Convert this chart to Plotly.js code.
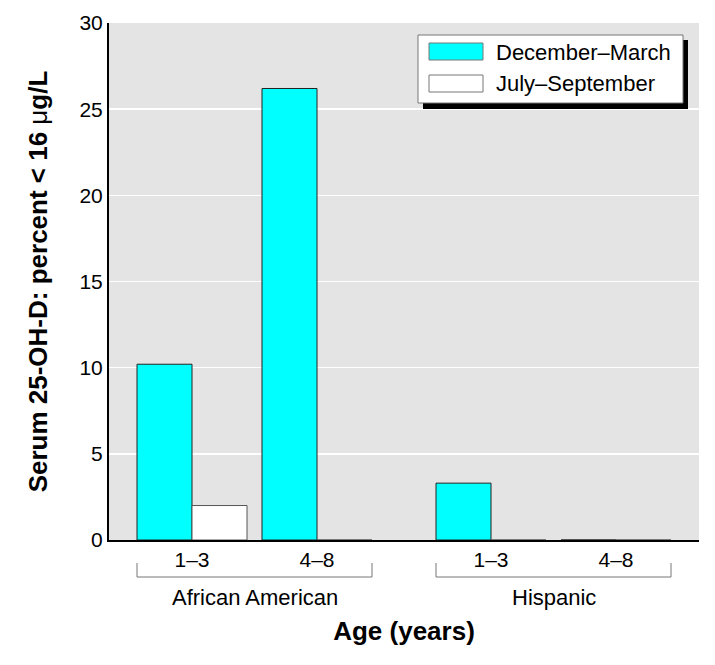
<!DOCTYPE html>
<html>
<head>
<meta charset="utf-8">
<script src="https://cdn.plot.ly/plotly-3.0.1.min.js"></script>
<style>html,body{margin:0;padding:0;background:#fff;}#chart{width:715px;height:665px;}</style>
</head>
<body>
<div id="chart"></div>
<script>
// ---- data ----
const groups = ["African American", "Hispanic"];
const ages = ["1–3", "4–8"];
const seriesNames = ["December–March", "July–September"];
const decMar = [10.2, 26.2, 3.3, 0];   // AA 1–3, AA 4–8, Hisp 1–3, Hisp 4–8
const julSep = [2.0, 0, 0, 0];
const seriesColors = ["#00ffff", "#ffffff"];

// ---- layout helpers ----
const FONT = "'Liberation Sans', Arial, sans-serif";
const W = 715, H = 665, M = { l: 109, r: 16, t: 23, b: 125 };
const PW = W - M.l - M.r, PH = H - M.t - M.b;
const px = v => (v - M.l) / PW;          // pixel x -> paper
const py = v => (H - M.b - v) / PH;      // pixel y -> paper

const groupStep = 2.392;
const xs = [], tickText = [];
groups.forEach((g, gi) => ages.forEach((a, ai) => { xs.push(gi * groupStep + ai); tickText.push(a); }));

const traces = [
  { type: "bar", name: seriesNames[0], x: xs, y: decMar, showlegend: false,
    marker: { color: seriesColors[0], line: { color: "#222", width: 1 } } },
  { type: "bar", name: seriesNames[1], x: xs, y: julSep, showlegend: false,
    marker: { color: seriesColors[1], line: { color: "#555", width: 1 } } }
];

const shapes = [], annotations = [];
groups.forEach((g, gi) => {
  const x0 = gi * groupStep - 0.44, x1 = gi * groupStep + (ages.length - 1) + 0.44;
  const yb = py(577), yt = py(563);
  shapes.push({ type: "path", xref: "x", yref: "paper",
    path: `M ${x0} ${yt} L ${x0} ${yb} L ${x1} ${yb} L ${x1} ${yt}`,
    line: { color: "#777", width: 1 } });
  annotations.push({ xref: "x", yref: "paper", x: (x0 + x1) / 2, y: py(597), text: g,
    showarrow: false, xanchor: "center", yanchor: "middle",
    font: { family: FONT, size: 22, color: "#000" } });
});

// custom legend (shadow, box, swatches, labels)
shapes.push({ type: "rect", xref: "paper", yref: "paper", x0: px(423), x1: px(688), y0: py(109), y1: py(40),
  fillcolor: "#000", line: { width: 0 }, layer: "above" });
shapes.push({ type: "rect", xref: "paper", yref: "paper", x0: px(418), x1: px(683), y0: py(103), y1: py(35),
  fillcolor: "#fff", line: { color: "#777", width: 1 }, layer: "above" });
seriesNames.forEach((n, i) => {
  const top = 43 + i * 32;
  shapes.push({ type: "rect", xref: "paper", yref: "paper", x0: px(429), x1: px(483), y0: py(top + 17), y1: py(top),
    fillcolor: seriesColors[i], line: { color: "#777", width: 1 }, layer: "above" });
  annotations.push({ xref: "paper", yref: "paper", x: px(494), y: py(top + 9), text: n,
    showarrow: false, xanchor: "left", yanchor: "middle",
    font: { family: FONT, size: 22, color: "#000" } });
});

const layout = {
  width: W, height: H,
  margin: M,
  paper_bgcolor: "#fff", plot_bgcolor: "#e4e4e4",
  barmode: "group", bargap: 0.12, bargroupgap: 0,
  font: { family: FONT, color: "#000" },
  showlegend: false,
  xaxis: { range: [-0.664, 4.056], tickmode: "array", tickvals: xs, ticktext: tickText,
    showgrid: false, zeroline: false, showline: true, linecolor: "#000", linewidth: 2,
    ticks: "", tickfont: { family: FONT, size: 21 },
    title: { text: "<b>Age (years)</b>", font: { family: FONT, size: 26 }, standoff: 52 } },
  yaxis: { range: [0, 30], tickvals: [0, 5, 10, 15, 20, 25, 30],
    showgrid: true, gridcolor: "#fff", gridwidth: 1.5, zeroline: false,
    showline: true, linecolor: "#000", linewidth: 2, ticks: "",
    tickfont: { family: FONT, size: 21 },
    title: { text: "<b>Serum 25-OH-D: percent < 16 </b>μ<b>g/L</b>", font: { family: FONT, size: 26 }, standoff: 24 } },
  shapes: shapes, annotations: annotations
};

Plotly.newPlot("chart", traces, layout, { displayModeBar: false, staticPlot: true });
</script>
</body>
</html>
